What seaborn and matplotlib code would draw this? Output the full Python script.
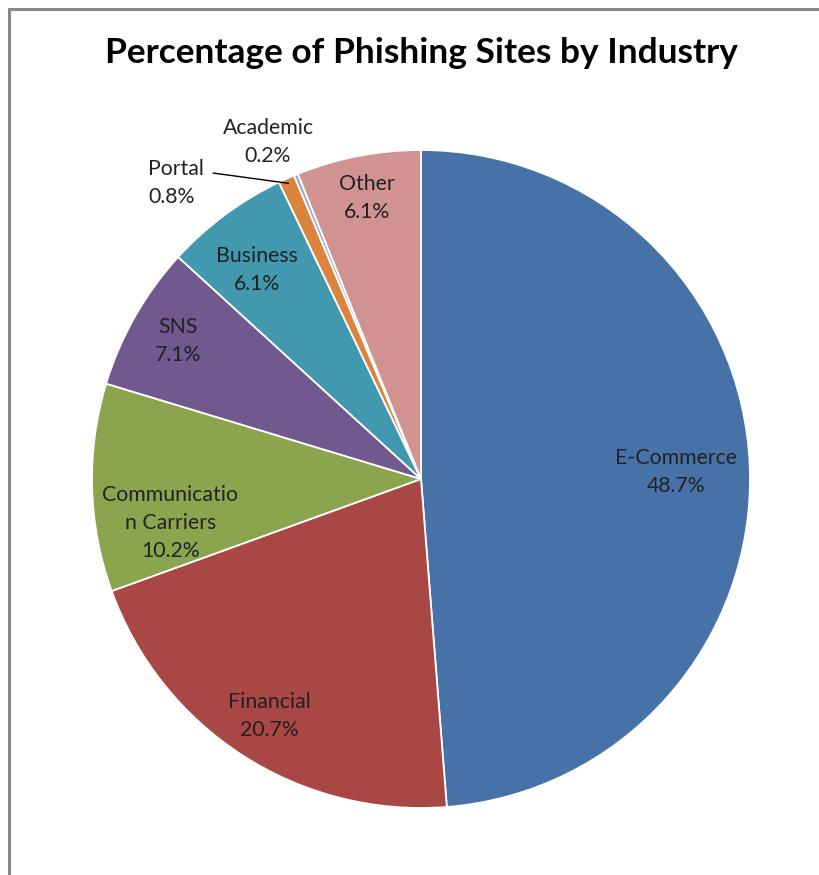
import numpy as np
import matplotlib
matplotlib.use("Agg")
import matplotlib.pyplot as plt
from matplotlib.patches import Rectangle
import seaborn as sns

# data, clockwise from 12 o'clock
industries = ["E-Commerce", "Financial", "Communicatio\nn Carriers", "SNS",
              "Business", "Portal", "Academic", "Other"]
shares = [48.7, 20.7, 10.2, 7.1, 6.1, 0.8, 0.2, 6.1]
pct_labels = ["48.7%", "20.7%", "10.2%", "7.1%", "6.1%", "0.8%", "0.2%", "6.1%"]
colors = ["#4672A8", "#A84744", "#8BA54F", "#71598F",
          "#4298AF", "#DB843D", "#93A9D0", "#D19392"]

# label placement (pie radius units)
label_xy = [(0.775, 0.02), (-0.46, -0.72), (-0.762, -0.134), (-0.739, 0.42),
            (-0.498, 0.635), (-0.745, 0.90), (-0.465, 1.024), (-0.164, 0.854)]

sns.set_theme(style="white")
plt.rcParams["font.family"] = ["Lato", "DejaVu Sans"]

W, H = 819, 875
fig = plt.figure(figsize=(W / 100, H / 100), dpi=100)
fig.patch.set_facecolor("white")

cx, cy, r = 421, 479, 329
ax = fig.add_axes([(cx - r) / W, (H - cy - r) / H, 2 * r / W, 2 * r / H])
wedges, _ = ax.pie(shares, colors=colors, startangle=90, counterclock=False,
                   radius=1.0, wedgeprops={"edgecolor": "white", "linewidth": 1.3})
ax.set_xlim(-1, 1)
ax.set_ylim(-1, 1)
ax.set_aspect("equal")
ax.axis("off")

for i, (name, pct) in enumerate(zip(industries, pct_labels)):
    x, y = label_xy[i]
    ma = "left" if name == "Portal" else "center"
    ax.text(x, y, name + "\n" + pct, ha="center", va="center", multialignment=ma,
            fontsize=15.3, color="#222222", linespacing=1.5, clip_on=False)

# leader line for Portal
w = wedges[industries.index("Portal")]
mid = np.deg2rad((w.theta1 + w.theta2) / 2)
ax.plot([-0.632, np.cos(mid) * 0.985], [0.93, np.sin(mid) * 0.985],
        color="black", lw=1.0, clip_on=False)

fig.text(cx / W, 1 - 53 / H, "Percentage of Phishing Sites by Industry",
         ha="center", va="center", fontsize=25.4, fontweight="bold", color="black")

# outer chart border (runs off right and bottom edges)
fig.add_artist(Rectangle((9 / W, -0.05), 1.0, 1 - 9 / H + 0.05,
                         transform=fig.transFigure, fill=False,
                         edgecolor="#888888", linewidth=2.2))

fig.savefig("out.png", dpi=100)
